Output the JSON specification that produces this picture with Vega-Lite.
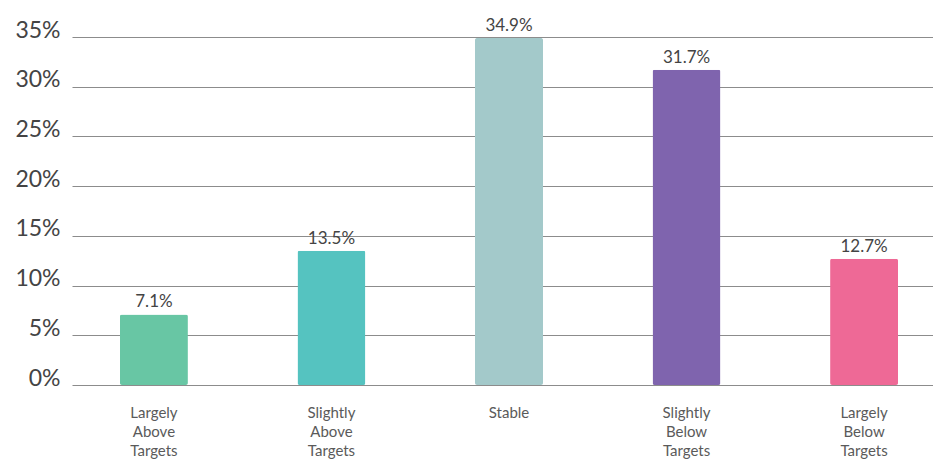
{
  "$schema": "https://vega.github.io/schema/vega-lite/v6.json",
  "autosize": {"type": "none"},
  "padding": {"left": 72, "top": 37, "right": 0, "bottom": 77},
  "width": 874,
  "height": 348,
  "background": "white",
  "data": {"values": [
    {"category": "Largely Above Targets", "value": 7.1, "label": "7.1%"},
    {"category": "Slightly Above Targets", "value": 13.5, "label": "13.5%"},
    {"category": "Stable", "value": 34.9, "label": "34.9%"},
    {"category": "Slightly Below Targets", "value": 31.7, "label": "31.7%"},
    {"category": "Largely Below Targets", "value": 12.7, "label": "12.7%"}
  ]},
  "config": {"view": {"stroke": null}, "font": "Lato"},
  "encoding": {
    "x": {
      "field": "category", "type": "nominal", "sort": null,
      "scale": {"paddingInner": 0.617, "paddingOuter": 0.27},
      "axis": {
        "title": null, "domain": false, "ticks": false, "labelAngle": 0,
        "labelExpr": "split(datum.label, ' ')",
        "labelFontSize": 15, "labelColor": "#5a5a5a", "labelLineHeight": 19,
        "labelPadding": 20, "labelBaseline": "top", "labelBound": false
      }
    },
    "y": {
      "field": "value", "type": "quantitative",
      "scale": {"domain": [0, 35], "nice": false},
      "axis": {
        "title": null, "domain": false, "ticks": false, "values": [0, 5, 10, 15, 20, 25, 30, 35],
        "labelExpr": "datum.value + '%'", "labelFontSize": 23, "labelColor": "#444444",
        "labelPadding": 12, "labelBaseline": "alphabetic",
        "gridColor": "#8c8c8c", "gridWidth": 1.2, "gridOpacity": 1
      }
    }
  },
  "layer": [
    {
      "mark": {"type": "bar", "cornerRadius": 2},
      "encoding": {
        "color": {
          "field": "category", "type": "nominal", "legend": null,
          "scale": {
            "domain": ["Largely Above Targets", "Slightly Above Targets", "Stable", "Slightly Below Targets", "Largely Below Targets"],
            "range": ["#68C6A4", "#55C3C0", "#A3C9CA", "#7F64AE", "#EE6996"]
          }
        }
      }
    },
    {
      "mark": {"type": "text", "baseline": "alphabetic", "dy": -7, "fontSize": 17, "color": "#444444"},
      "encoding": {"text": {"field": "label"}}
    }
  ]
}
